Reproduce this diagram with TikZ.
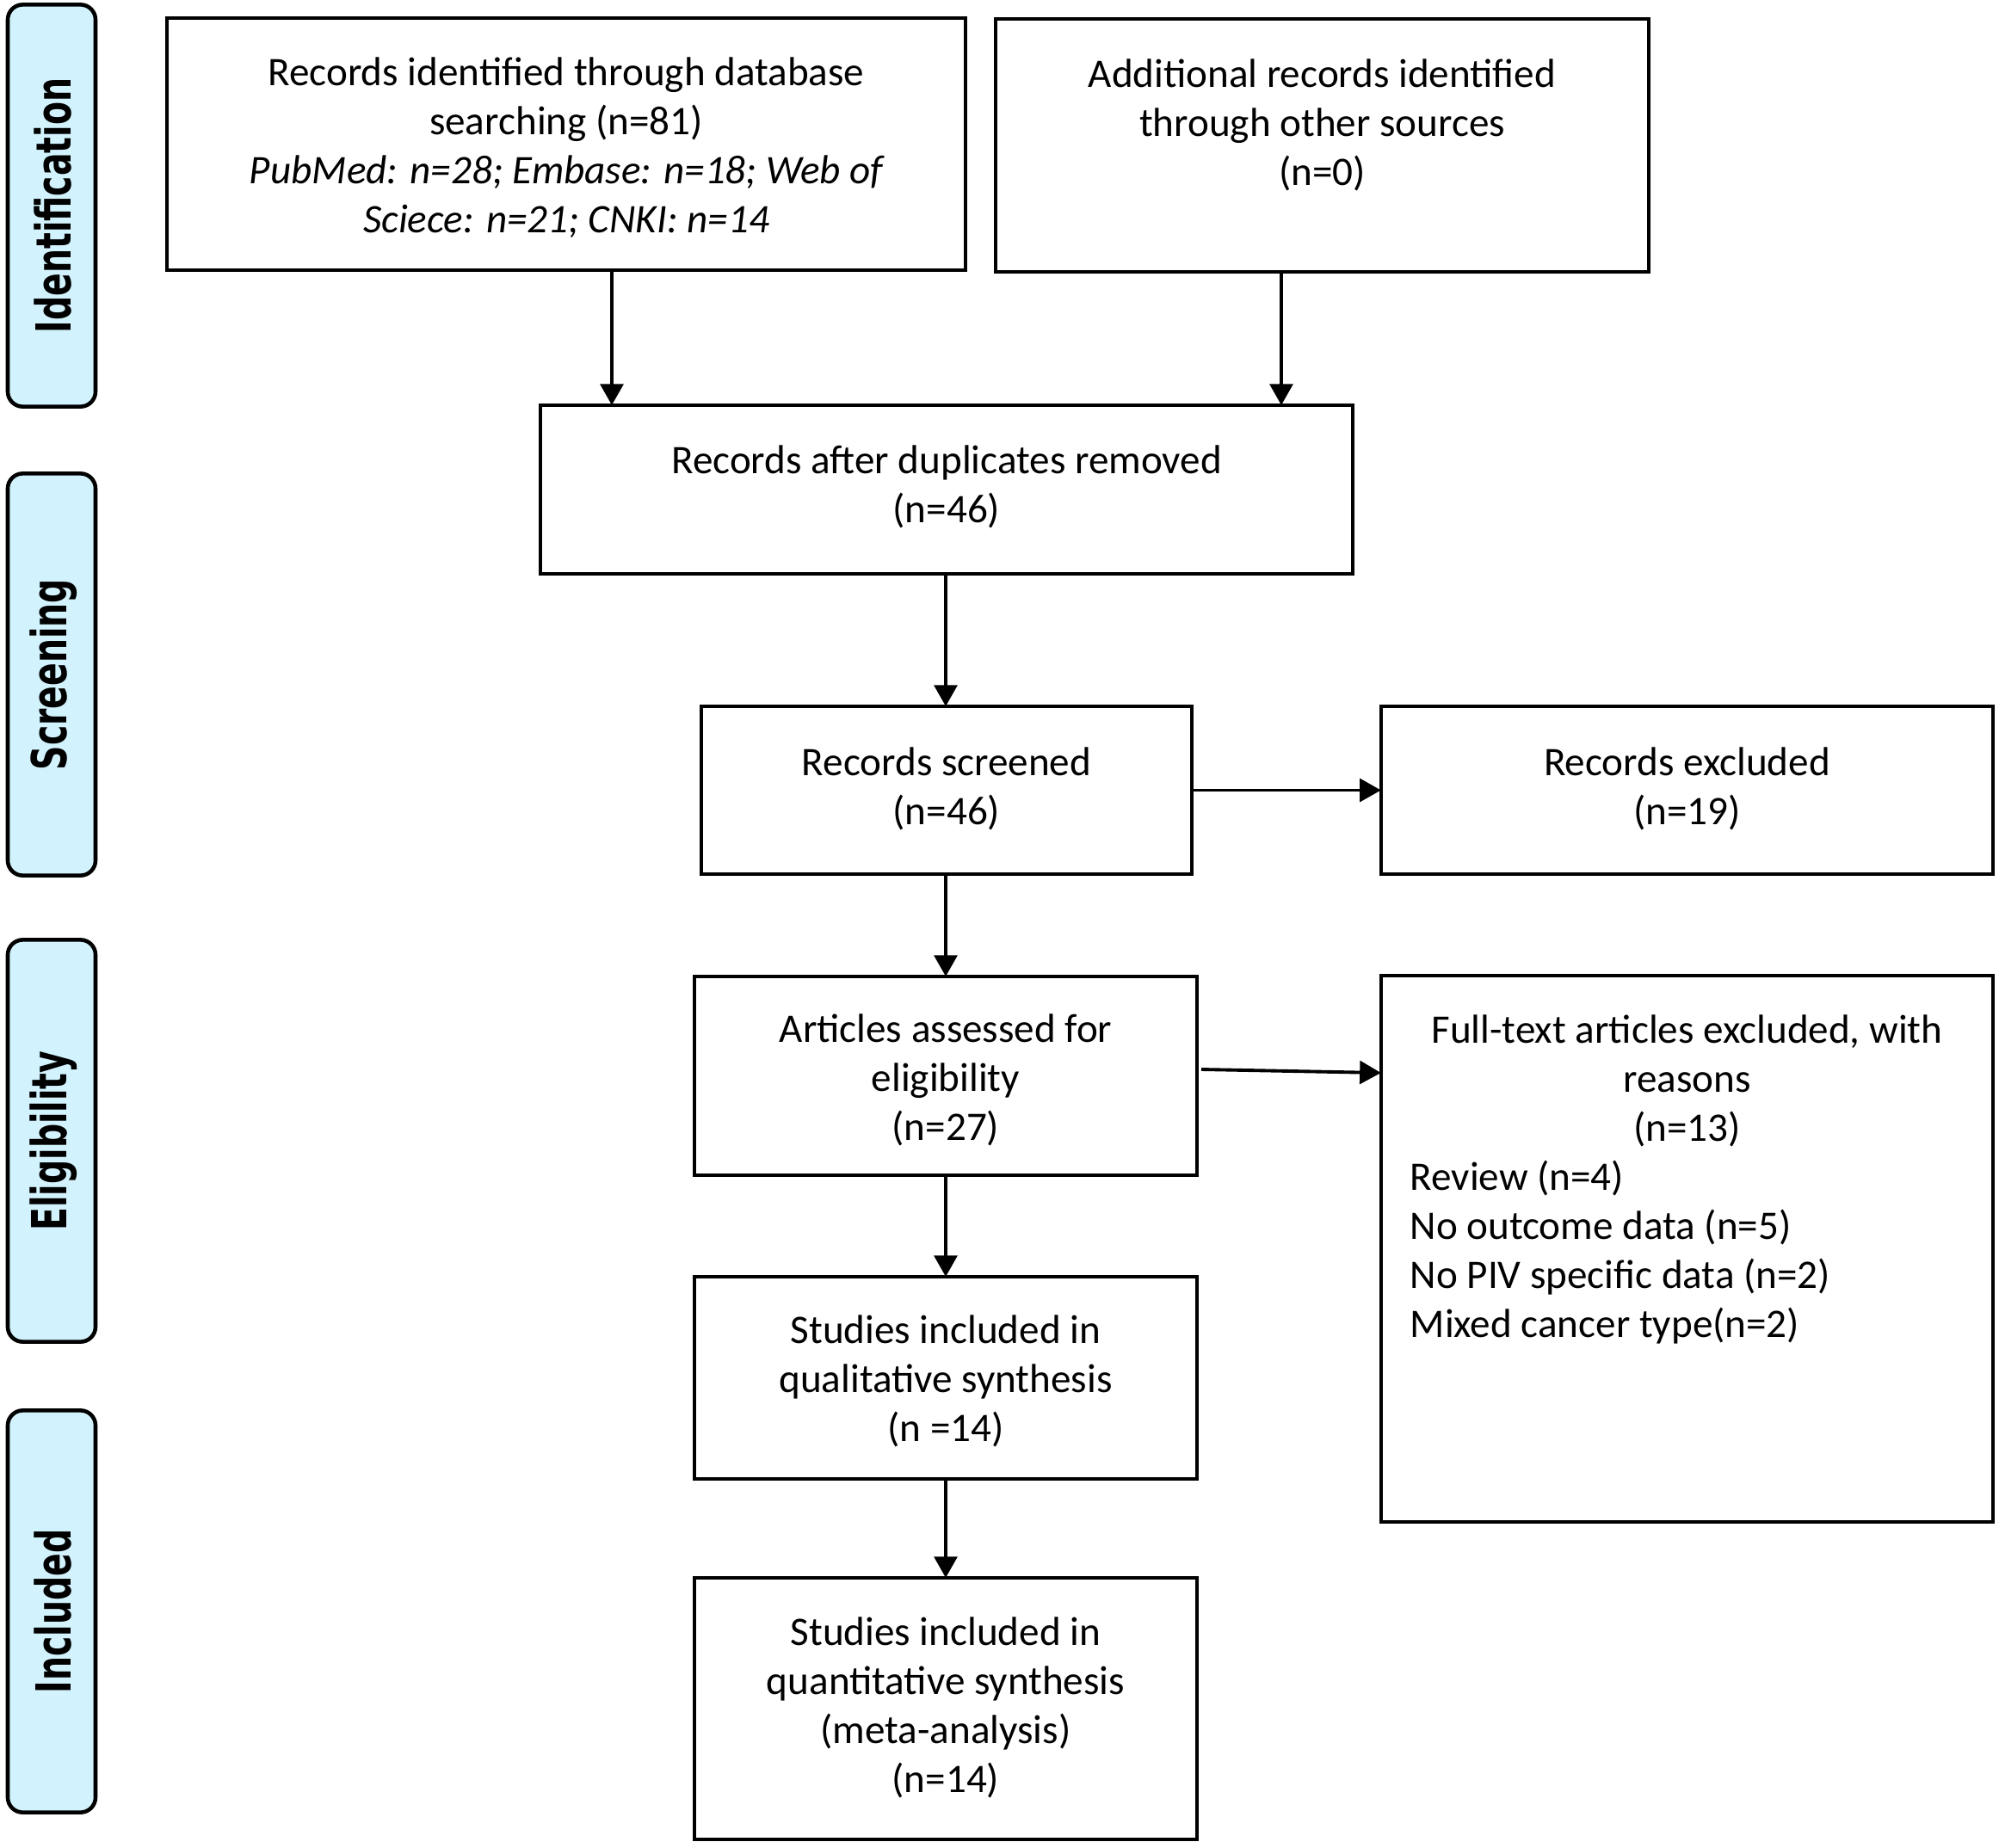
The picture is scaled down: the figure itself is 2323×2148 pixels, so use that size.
\documentclass[tikz,border=0pt]{standalone}
\usepackage{graphicx}
\usepackage{fontspec}
\setmainfont{Carlito}
\newfontfamily\pillfont{DejaVu Sans}
\usetikzlibrary{arrows.meta}
\definecolor{pillblue}{RGB}{210,243,253}
\begin{document}
\begin{tikzpicture}[x=0.01cm, y=-0.01cm,
  box/.style={draw, line width=1.1pt, inner sep=0pt, outer sep=0pt, rectangle},
  txt/.style={align=center, inner sep=0pt, font=\fontsize{13.4}{16.2}\selectfont},
  pill/.style={draw, line width=1.3pt, rounded corners=5pt, fill=pillblue, inner sep=0pt,
    minimum width=1.02cm, minimum height=4.67cm},
  pilltxt/.style={rotate=90, inner sep=0pt, font=\pillfont\bfseries\fontsize{16}{19}\selectfont},
  arr/.style={line width=1.1pt, -{Triangle[length=7pt, width=7.6pt]}}]
\useasboundingbox (0,0) rectangle (2323,2148);
% phase pills
\node[pill] (pid) at (60,239) {};
\node[pilltxt] (lid) at (62,239) {\scalebox{0.70}[1]{Identification}};
\node[pill] (psc) at (60,784) {};
\node[pilltxt] (lsc) at (62,784) {\scalebox{0.70}[1]{Screening}};
\node[pill] (pel) at (60,1326) {};
\node[pilltxt] (lel) at (62,1326) {\scalebox{0.70}[1]{Eligibility}};
\node[pill] (pin) at (60,1873) {};
\node[pilltxt] (lin) at (62,1873) {\scalebox{0.70}[1]{Included}};
% boxes
\node[box, minimum width=9.28cm, minimum height=2.93cm] (b1) at (658,167.5) {};
\node[txt] (t1) at (658,172) {Records identified through database\\searching (n=81)\\\itshape PubMed: n=28; Embase: n=18; Web of\\\itshape Sciece: n=21; CNKI: n=14};
\node[box, minimum width=7.59cm, minimum height=2.94cm] (b2) at (1536.5,169) {};
\node[txt] (t2) at (1536.5,145.5) {Additional records identified\\through other sources\\(n=0)};
\node[box, minimum width=9.44cm, minimum height=1.96cm] (b3) at (1100,569) {};
\node[txt] (t3) at (1100,566) {Records after duplicates removed\\(n=46)};
\node[box, minimum width=5.70cm, minimum height=1.95cm] (b4) at (1100,918.5) {};
\node[txt] (t4) at (1100,916.5) {Records screened\\(n=46)};
\node[box, minimum width=7.11cm, minimum height=1.95cm] (b5) at (1960.5,918.5) {};
\node[txt] (t5) at (1960.5,916.5) {Records excluded\\(n=19)};
\node[box, minimum width=5.84cm, minimum height=2.31cm] (b6) at (1099,1250.5) {};
\node[txt] (t6) at (1099,1255.5) {Articles assessed for\\eligibility\\(n=27)};
\node[box, minimum width=7.11cm, minimum height=6.35cm] (b7) at (1960.5,1451.5) {};
\node[txt] (t7a) at (1960.5,1256.5) {Full-text articles excluded, with\\reasons\\(n=13)};
\node[txt, align=left, anchor=west] (t7b) at (1638,1455.5) {Review (n=4)\\No outcome data (n=5)\\No PIV specific data (n=2)\\Mixed cancer type(n=2)};
\node[box, minimum width=5.84cm, minimum height=2.35cm] (b8) at (1099,1601.5) {};
\node[txt] (t8) at (1099,1605.5) {Studies included in\\qualitative synthesis\\(n =14)};
\node[box, minimum width=5.84cm, minimum height=3.04cm] (b9) at (1099,1986) {};
\node[txt] (t9) at (1099,1984.5) {Studies included in\\quantitative synthesis\\(meta-analysis)\\(n=14)};
% connectors
\coordinate (a1) at (711,0);
\coordinate (a2) at (1489,0);
\coordinate (a3) at (1099,0);
\coordinate (s6) at (1396,1243);
\coordinate (e7) at (1605,1247);
\draw[arr] (b1.south -| a1) -- (b3.north -| a1);
\draw[arr] (b2.south -| a2) -- (b3.north -| a2);
\draw[arr] (b3.south -| a3) -- (b4.north -| a3);
\draw[arr] (b4.east) -- (b5.west);
\draw[arr] (b4.south -| a3) -- (b6.north -| a3);
\draw[arr] (s6) -- (b7.west |- e7);
\draw[arr] (b6.south -| a3) -- (b8.north -| a3);
\draw[arr] (b8.south -| a3) -- (b9.north -| a3);
\end{tikzpicture}
\end{document}
